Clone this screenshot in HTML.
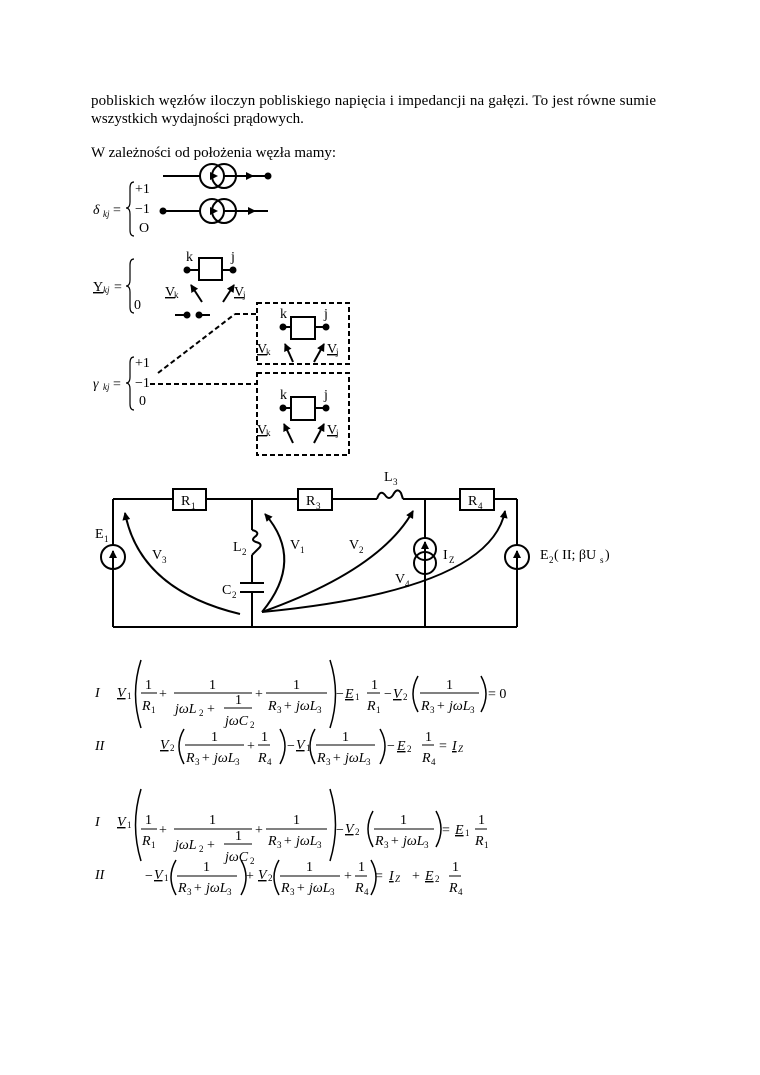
<!DOCTYPE html>
<html><head><meta charset="utf-8"><style>
html,body{margin:0;padding:0;background:#fff;width:760px;height:1075px;overflow:hidden}
svg{display:block}
text{font-family:"Liberation Serif",serif;fill:#000}
.t{font-size:15px}
.m{font-size:14px;font-style:italic}
.n{font-size:14px;font-style:normal}
.s{font-size:9px}
.c{font-size:14px}
</style></head><body>
<svg width="760" height="1075" viewBox="0 0 760 1075" xmlns="http://www.w3.org/2000/svg">
<defs>
<marker id="ah" markerWidth="8" markerHeight="8" refX="7" refY="4" orient="auto" markerUnits="userSpaceOnUse"><path d="M0,0 L8,4 L0,8 Z" fill="#000"/></marker>
</defs>
<text class="t" x="91" y="105" textLength="565">pobliskich węzłów iloczyn pobliskiego napięcia i impedancji na gałęzi. To jest równe sumie</text>
<text class="t" x="91" y="123">wszystkich wydajności prądowych.</text>
<text class="t" x="91" y="157">W zależności od położenia węzła mamy:</text>

<g stroke="#000" stroke-width="2" fill="none">
<line x1="163" y1="176" x2="268" y2="176"/>
<circle cx="212" cy="176" r="12" fill="#fff"/><circle cx="224" cy="176" r="12"/>
<line x1="163" y1="211" x2="268" y2="211"/>
<circle cx="212" cy="211" r="12" fill="#fff"/><circle cx="224" cy="211" r="12"/>
<path d="M134,182 Q130,182 130,188 L130,202 Q130,208 126,208 Q130,208 130,214 L130,230 Q130,236 134,236" stroke-width="1.2"/>
<rect x="199" y="258" width="23" height="22"/>
<line x1="187" y1="270" x2="199" y2="270"/><line x1="222" y1="270" x2="233" y2="270"/>
<line x1="202" y1="302" x2="191" y2="285" marker-end="url(#ah)"/>
<line x1="223" y1="302" x2="234" y2="285" marker-end="url(#ah)"/>
<line x1="175" y1="315" x2="190" y2="315"/><line x1="199" y1="315" x2="210" y2="315"/>
<path d="M134,259 Q130,259 130,265 L130,280 Q130,286 126,286 Q130,286 130,292 L130,307 Q130,313 134,313" stroke-width="1.2"/>
<path d="M134,357 Q130,357 130,363 L130,377 Q130,383 126,383 Q130,383 130,389 L130,404 Q130,410 134,410" stroke-width="1.2"/>
<g stroke-dasharray="5,3">
<line x1="158" y1="373" x2="235" y2="314"/><line x1="235" y1="314" x2="256" y2="314"/>
<line x1="150" y1="384" x2="256" y2="384"/>
<rect x="257" y="303" width="92" height="61"/>
<rect x="257" y="373" width="92" height="82"/>
</g>
<rect x="291" y="317" width="24" height="22"/>
<line x1="283" y1="327" x2="291" y2="327"/><line x1="315" y1="327" x2="326" y2="327"/>
<line x1="293" y1="362" x2="285" y2="344" marker-end="url(#ah)"/>
<line x1="314" y1="362" x2="324" y2="344" marker-end="url(#ah)"/>
<rect x="291" y="397" width="24" height="23"/>
<line x1="283" y1="408" x2="291" y2="408"/><line x1="315" y1="408" x2="326" y2="408"/>
<line x1="293" y1="443" x2="284" y2="424" marker-end="url(#ah)"/>
<line x1="314" y1="443" x2="324" y2="424" marker-end="url(#ah)"/>
</g>
<g fill="#000">
<circle cx="268" cy="176" r="3.5"/><circle cx="163" cy="211" r="3.5"/>
<path d="M246,172 L254,176 L246,180Z"/><path d="M248,207 L256,211 L248,215Z"/>
<path d="M210,172 L218,176 L210,180Z"/><path d="M210,207 L218,211 L210,215Z"/>
<circle cx="187" cy="270" r="3.5"/><circle cx="233" cy="270" r="3.5"/>
<circle cx="187" cy="315" r="3.5"/><circle cx="199" cy="315" r="3.5"/>
<circle cx="283" cy="327" r="3.5"/><circle cx="326" cy="327" r="3.5"/>
<circle cx="283" cy="408" r="3.5"/><circle cx="326" cy="408" r="3.5"/>
</g>
<text class="m" x="93" y="214" font-size="17">δ</text><text class="s" x="103" y="217" font-style="italic">kj</text><text class="n" x="113" y="214">=</text>
<text class="n" x="135" y="193">+1</text><text class="n" x="135" y="213">−1</text><text class="n" x="139" y="232">O</text>
<text class="n" x="93" y="291" text-decoration="underline">Y</text><text class="s" x="103" y="293" font-style="italic">kj</text><text class="n" x="114" y="291">=</text>
<text class="n" x="134" y="309">0</text>
<text class="n" x="186" y="261">k</text><text class="n" x="231" y="261">j</text>
<text class="c" x="165" y="296" text-decoration="underline">V</text><text class="s" x="174" y="298">k</text>
<text class="c" x="234" y="296" text-decoration="underline">V</text><text class="s" x="243" y="298">j</text>
<text class="m" x="93" y="388" font-size="17">γ</text><text class="s" x="103" y="390" font-style="italic">kj</text><text class="n" x="113" y="388">=</text>
<text class="n" x="135" y="367">+1</text><text class="n" x="135" y="387">−1</text><text class="n" x="139" y="405">0</text>
<text class="n" x="280" y="318">k</text><text class="n" x="324" y="318">j</text>
<text class="c" x="257" y="353" text-decoration="underline">V</text><text class="s" x="266" y="355">k</text>
<text class="c" x="327" y="353" text-decoration="underline">V</text><text class="s" x="336" y="355">j</text>
<text class="n" x="280" y="399">k</text><text class="n" x="324" y="399">j</text>
<text class="c" x="257" y="434" text-decoration="underline">V</text><text class="s" x="266" y="436">k</text>
<text class="c" x="327" y="434" text-decoration="underline">V</text><text class="s" x="336" y="436">j</text>

<g stroke="#000" stroke-width="2" fill="none">
<path d="M113,499 L173,499 M206,499 L298,499 M332,499 L377,499 M403,499 L460,499 M494,499 L517,499"/>
<path d="M113,627 L517,627"/>
<path d="M113,499 L113,545 M113,569 L113,627"/>
<path d="M517,499 L517,545 M517,569 L517,627"/>
<path d="M425,499 L425,627"/>
<path d="M252,499 L252,530 M252,555 L252,583 M252,592 L252,627"/>
<rect x="173" y="489" width="33" height="21"/><rect x="298" y="489" width="34" height="21"/><rect x="460" y="489" width="34" height="21"/>
<path d="M377,499 q3,-10 8,-4 q4,6 8,0 q4,-8 8,-2 l2,6"/>
<path d="M252,530 q8,2 4,6 q-6,4 0,6 q8,2 2,7 l-6,6"/>
<line x1="240" y1="583" x2="264" y2="583"/><line x1="240" y1="592" x2="264" y2="592"/>
<circle cx="113" cy="557" r="12" fill="#fff"/>
<circle cx="517" cy="557" r="12" fill="#fff"/>
<circle cx="425" cy="549" r="11" fill="#fff"/><circle cx="425" cy="563" r="11"/>
<line x1="113" y1="569" x2="113" y2="551" marker-end="url(#ah)"/>
<line x1="517" y1="569" x2="517" y2="551" marker-end="url(#ah)"/>
<line x1="425" y1="570" x2="425" y2="542" marker-end="url(#ah)"/>
<path d="M240,614 Q140,590 125,513" marker-end="url(#ah)"/>
<path d="M262,612 Q305,560 265,514" marker-end="url(#ah)"/>
<path d="M262,612 Q380,570 413,511" marker-end="url(#ah)"/>
<path d="M262,612 Q490,590 505,511" marker-end="url(#ah)"/>
</g>
<text class="c" x="181" y="505">R</text><text class="s" x="191" y="509">1</text>
<text class="c" x="306" y="505">R</text><text class="s" x="316" y="509">3</text>
<text class="c" x="468" y="505">R</text><text class="s" x="478" y="509">4</text>
<text class="c" x="384" y="481">L</text><text class="s" x="393" y="485">3</text>
<text class="c" x="95" y="538">E</text><text class="s" x="104" y="542">1</text>
<text class="c" x="152" y="559">V</text><text class="s" x="162" y="563">3</text>
<text class="c" x="233" y="551">L</text><text class="s" x="242" y="555">2</text>
<text class="c" x="290" y="549">V</text><text class="s" x="300" y="553">1</text>
<text class="c" x="349" y="549">V</text><text class="s" x="359" y="553">2</text>
<text class="c" x="443" y="559">I</text><text class="s" x="449" y="563">Z</text>
<text class="c" x="395" y="583">V</text><text class="s" x="405" y="587">4</text>
<text class="c" x="222" y="594">C</text><text class="s" x="232" y="598">2</text>
<text class="c" x="540" y="559">E</text><text class="s" x="549" y="563">2</text><text class="c" x="554" y="559">( II; βU</text><text class="s" x="600" y="563">s</text><text class="c" x="605" y="559">)</text>

<g stroke="#000" stroke-width="1" fill="none">
<path d="M141,660 Q130,694 141,728" stroke-width="1.5"/><path d="M330,660 Q341,694 330,728" stroke-width="1.5"/>
<line x1="141" y1="693" x2="157" y2="693"/><line x1="174" y1="693" x2="252" y2="693"/><line x1="224" y1="708" x2="252" y2="708"/><line x1="266" y1="693" x2="327" y2="693"/>
<line x1="367" y1="693" x2="380" y2="693"/>
<path d="M418,676 Q408,694 418,712" stroke-width="1.5"/><path d="M481,676 Q491,694 481,712" stroke-width="1.5"/>
<line x1="420" y1="693" x2="479" y2="693"/>
<path d="M184,729 Q174,746 184,764" stroke-width="1.5"/><path d="M280,729 Q290,746 280,764" stroke-width="1.5"/>
<line x1="185" y1="745" x2="244" y2="745"/><line x1="258" y1="745" x2="270" y2="745"/>
<path d="M315,729 Q305,746 315,764" stroke-width="1.5"/><path d="M380,729 Q390,746 380,764" stroke-width="1.5"/>
<line x1="316" y1="745" x2="375" y2="745"/><line x1="422" y1="745" x2="434" y2="745"/>
<path d="M141,789 Q130,825 141,861" stroke-width="1.5"/><path d="M330,789 Q341,825 330,861" stroke-width="1.5"/>
<line x1="141" y1="829" x2="157" y2="829"/><line x1="174" y1="829" x2="252" y2="829"/><line x1="224" y1="844" x2="252" y2="844"/><line x1="266" y1="829" x2="327" y2="829"/>
<path d="M373,811 Q363,829 373,847" stroke-width="1.5"/><path d="M436,811 Q446,829 436,847" stroke-width="1.5"/>
<line x1="374" y1="829" x2="434" y2="829"/><line x1="475" y1="829" x2="487" y2="829"/>
<path d="M176,860 Q166,877 176,895" stroke-width="1.5"/><path d="M241,860 Q251,877 241,895" stroke-width="1.5"/>
<line x1="177" y1="876" x2="237" y2="876"/>
<path d="M279,860 Q269,877 279,895" stroke-width="1.5"/><path d="M371,860 Q381,877 371,895" stroke-width="1.5"/>
<line x1="280" y1="876" x2="340" y2="876"/><line x1="355" y1="876" x2="367" y2="876"/>
<line x1="449" y1="876" x2="461" y2="876"/>
</g>
<g>
<text class="m" x="95" y="697">I</text>
<text class="m" x="117" y="697" text-decoration="underline">V</text><text class="s" x="127" y="699">1</text>
<text class="n" x="145" y="689">1</text><text class="m" x="142" y="710">R</text><text class="s" x="151" y="713">1</text>
<text class="n" x="159" y="698">+</text>
<text class="n" x="209" y="689">1</text>
<text class="m" x="175" y="713">jωL</text><text class="s" x="199" y="716">2</text><text class="n" x="207" y="713">+</text>
<text class="n" x="235" y="704">1</text><text class="m" x="225" y="725">jωC</text><text class="s" x="250" y="728">2</text>
<text class="n" x="255" y="698">+</text>
<text class="n" x="293" y="689">1</text><text class="m" x="268" y="710">R</text><text class="s" x="277" y="713">3</text><text class="m" x="283" y="710">+ jωL</text><text class="s" x="317" y="713">3</text>
<text class="n" x="336" y="698">−</text><text class="m" x="345" y="698" text-decoration="underline">E</text><text class="s" x="355" y="700">1</text>
<text class="n" x="371" y="689">1</text><text class="m" x="367" y="710">R</text><text class="s" x="376" y="713">1</text>
<text class="n" x="384" y="698">−</text><text class="m" x="393" y="698" text-decoration="underline">V</text><text class="s" x="403" y="700">2</text>
<text class="n" x="446" y="689">1</text><text class="m" x="421" y="710">R</text><text class="s" x="430" y="713">3</text><text class="m" x="436" y="710">+ jωL</text><text class="s" x="470" y="713">3</text>
<text class="n" x="488" y="698">= 0</text>
<text class="m" x="95" y="750">II</text>
<text class="m" x="160" y="749" text-decoration="underline">V</text><text class="s" x="170" y="751">2</text>
<text class="n" x="211" y="741">1</text><text class="m" x="186" y="762">R</text><text class="s" x="195" y="765">3</text><text class="m" x="201" y="762">+ jωL</text><text class="s" x="235" y="765">3</text>
<text class="n" x="247" y="750">+</text>
<text class="n" x="261" y="741">1</text><text class="m" x="258" y="762">R</text><text class="s" x="267" y="765">4</text>
<text class="n" x="287" y="750">−</text><text class="m" x="296" y="749" text-decoration="underline">V</text><text class="s" x="306" y="751">1</text>
<text class="n" x="342" y="741">1</text><text class="m" x="317" y="762">R</text><text class="s" x="326" y="765">3</text><text class="m" x="332" y="762">+ jωL</text><text class="s" x="366" y="765">3</text>
<text class="n" x="387" y="750">−</text><text class="m" x="397" y="750" text-decoration="underline">E</text><text class="s" x="407" y="752">2</text>
<text class="n" x="425" y="741">1</text><text class="m" x="422" y="762">R</text><text class="s" x="431" y="765">4</text>
<text class="n" x="439" y="750">=</text><text class="m" x="452" y="750" text-decoration="underline">I</text><text class="s" x="458" y="752" font-style="italic">Z</text>
<text class="m" x="95" y="826">I</text>
<text class="m" x="117" y="826" text-decoration="underline">V</text><text class="s" x="127" y="828">1</text>
<text class="n" x="145" y="824">1</text><text class="m" x="142" y="845">R</text><text class="s" x="151" y="848">1</text>
<text class="n" x="159" y="834">+</text>
<text class="n" x="209" y="824">1</text>
<text class="m" x="175" y="849">jωL</text><text class="s" x="199" y="852">2</text><text class="n" x="207" y="849">+</text>
<text class="n" x="235" y="840">1</text><text class="m" x="225" y="861">jωC</text><text class="s" x="250" y="864">2</text>
<text class="n" x="255" y="834">+</text>
<text class="n" x="293" y="824">1</text><text class="m" x="268" y="845">R</text><text class="s" x="277" y="848">3</text><text class="m" x="283" y="845">+ jωL</text><text class="s" x="317" y="848">3</text>
<text class="n" x="336" y="834">−</text><text class="m" x="345" y="833" text-decoration="underline">V</text><text class="s" x="355" y="835">2</text>
<text class="n" x="400" y="824">1</text><text class="m" x="375" y="845">R</text><text class="s" x="384" y="848">3</text><text class="m" x="390" y="845">+ jωL</text><text class="s" x="424" y="848">3</text>
<text class="n" x="442" y="834">=</text><text class="m" x="455" y="834" text-decoration="underline">E</text><text class="s" x="465" y="836">1</text>
<text class="n" x="478" y="824">1</text><text class="m" x="475" y="845">R</text><text class="s" x="484" y="848">1</text>
<text class="m" x="95" y="879">II</text>
<text class="n" x="145" y="880">−</text><text class="m" x="154" y="879" text-decoration="underline">V</text><text class="s" x="164" y="881">1</text>
<text class="n" x="203" y="871">1</text><text class="m" x="178" y="892">R</text><text class="s" x="187" y="895">3</text><text class="m" x="193" y="892">+ jωL</text><text class="s" x="227" y="895">3</text>
<text class="n" x="246" y="880">+</text><text class="m" x="258" y="879" text-decoration="underline">V</text><text class="s" x="268" y="881">2</text>
<text class="n" x="306" y="871">1</text><text class="m" x="281" y="892">R</text><text class="s" x="290" y="895">3</text><text class="m" x="296" y="892">+ jωL</text><text class="s" x="330" y="895">3</text>
<text class="n" x="344" y="880">+</text>
<text class="n" x="358" y="871">1</text><text class="m" x="355" y="892">R</text><text class="s" x="364" y="895">4</text>
<text class="n" x="375" y="880">=</text><text class="m" x="389" y="880" text-decoration="underline">I</text><text class="s" x="395" y="882" font-style="italic">Z</text>
<text class="n" x="412" y="880">+</text><text class="m" x="425" y="880" text-decoration="underline">E</text><text class="s" x="435" y="882">2</text>
<text class="n" x="452" y="871">1</text><text class="m" x="449" y="892">R</text><text class="s" x="458" y="895">4</text>
</g>
</svg>
</body></html>
